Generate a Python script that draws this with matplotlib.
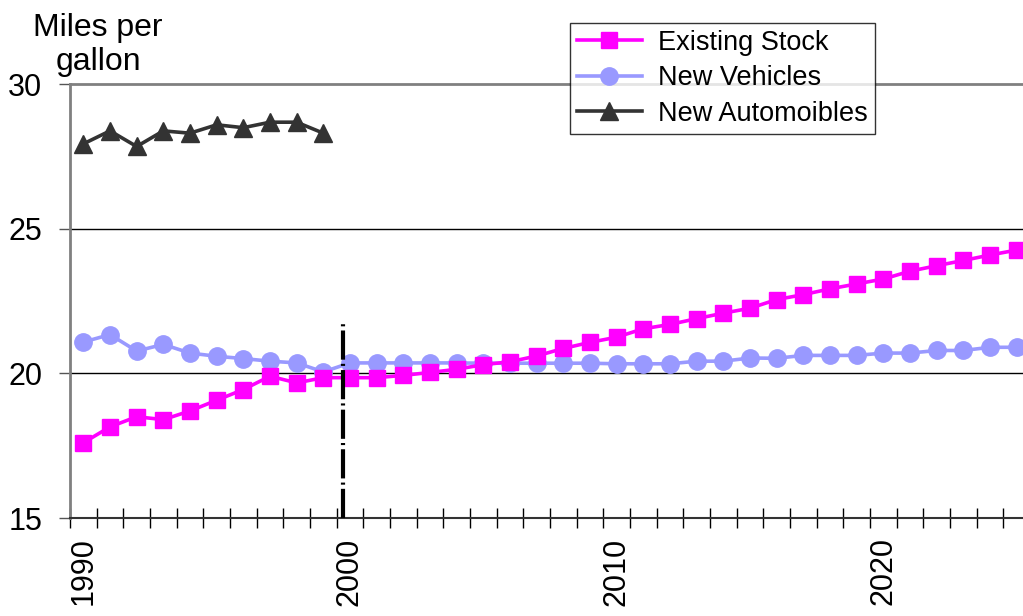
import numpy as np
import matplotlib.pyplot as plt

plt.rcParams['font.family'] = ['Liberation Sans', 'DejaVu Sans']

# Years shown on the category axis
years = list(range(1990, 2026))

# Existing stock (mpg), 1990-2025
existing_stock = [17.6, 18.15, 18.5, 18.4, 18.7, 19.07, 19.44, 19.9, 19.67, 19.85,
                  19.85, 19.85, 19.93, 20.03, 20.14, 20.3, 20.4, 20.6, 20.86, 21.07,
                  21.25, 21.54, 21.69, 21.89, 22.08, 22.25, 22.55, 22.72, 22.92, 23.09,
                  23.26, 23.53, 23.72, 23.9, 24.09, 24.26]

# New vehicles (mpg), 1990-2025
new_vehicles = [21.08, 21.34, 20.77, 21.0, 20.7, 20.59, 20.51, 20.42, 20.36, 20.05,
                20.36, 20.36, 20.36, 20.36, 20.36, 20.35, 20.35, 20.35, 20.35, 20.35,
                20.33, 20.33, 20.33, 20.42, 20.42, 20.53, 20.52, 20.62, 20.62, 20.62,
                20.7, 20.7, 20.79, 20.79, 20.9, 20.9]

# New automobiles (mpg), 1990-1999 only
new_autos = [27.93, 28.38, 27.84, 28.38, 28.3, 28.59, 28.49, 28.68, 28.68, 28.3]

# dash-dot divider between history and projection
divider_year = 1999.75
divider_top = 21.8

x_all = np.arange(len(years))

fig = plt.figure(figsize=(10.23, 6.16), dpi=100)
ax = fig.add_axes([70 / 1023, 98 / 616, 960 / 1023, 434 / 616])

ax.plot(x_all, existing_stock, color='#FF00FF', lw=2.6, marker='s', ms=12,
        label='Existing Stock', zorder=4)
ax.plot(x_all, new_vehicles, color='#9999FF', lw=2.6, marker='o', ms=12.5,
        label='New Vehicles', zorder=3)
ax.plot(x_all[:len(new_autos)], new_autos, color='#333333', lw=2.6, marker='^', ms=12.5,
        label='New Automoibles', zorder=5)

xd = divider_year - years[0]
ax.plot([xd, xd], [15, divider_top], color='black', lw=3,
        linestyle=(0, (7, 1, 0.5, 1)), zorder=6)

ax.set_xlim(-0.5, len(years) - 0.5)
ax.set_ylim(15, 30)

# horizontal grid
for v in [20, 25]:
    ax.axhline(v, color='black', lw=1, zorder=1)

ax.set_yticks([15, 20, 25, 30])
ax.set_yticklabels(['15', '20', '25', '30'], fontsize=22)
ax.tick_params(axis='y', direction='out', length=8, width=1, pad=12, color='#555555')

label_years = [1990, 2000, 2010, 2020]
ax.set_xticks([years.index(y) for y in label_years])
ax.set_xticklabels([str(y) for y in label_years], rotation=90, fontsize=22, va='top')
ax.set_xticks(np.arange(-0.5, len(years)), minor=True)
ax.tick_params(axis='x', which='major', length=0, pad=14)
ax.tick_params(axis='x', which='minor', direction='inout', length=14, width=1)

for s in ['left', 'top', 'right']:
    ax.spines[s].set_color('#808080')
    ax.spines[s].set_linewidth(2)
ax.spines['bottom'].set_color('#333333')
ax.spines['bottom'].set_linewidth(1.5)

fig.text(98 / 1023, 1 - 45 / 616, 'Miles per\ngallon', ha='center', va='center',
         fontsize=23, linespacing=1.2)

leg = ax.legend(loc='upper left', bbox_to_anchor=(500 / 960, 1 + 61 / 434),
                fontsize=19.5, frameon=True, fancybox=False, edgecolor='black',
                borderpad=0.25, labelspacing=0.35, handlelength=2.4, handletextpad=0.6,
                borderaxespad=0)
leg.get_frame().set_linewidth(1)
leg.set_zorder(10)

fig.savefig('out.png', dpi=100)
